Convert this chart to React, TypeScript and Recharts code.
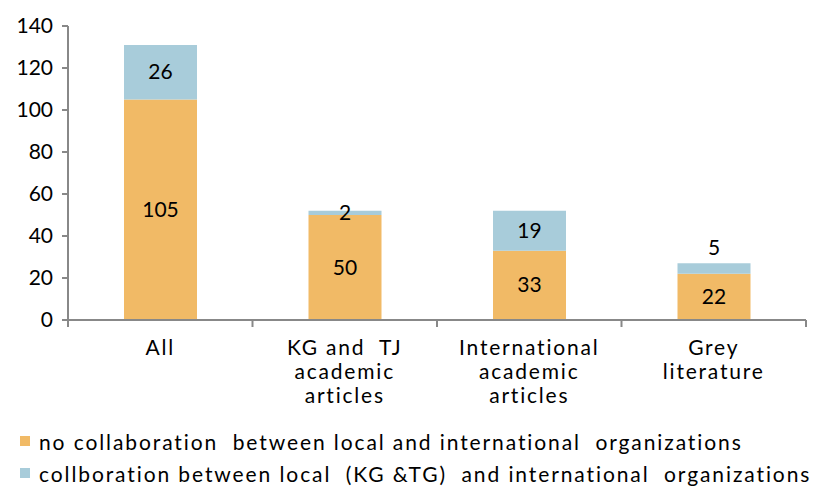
import React from "react"
import { Bar, BarChart, LabelList, XAxis, YAxis } from "recharts"

const categories = ["All", "KG and  TJ|academic|articles", "International|academic|articles", "Grey|literature"]
const noCollab = [105, 50, 33, 22]
const collab = [26, 2, 19, 5]
const yTicks = [0, 20, 40, 60, 80, 100, 120, 140]

const seriesNames = {
    noCollab: "no collaboration  between local and international  organizations",
    collab: "collboration between local  (KG &TG)  and international  organizations",
}

const ORANGE = "#F1BA66"
const BLUE = "#A8CCDA"
const AXIS = "#888888"
const FONT = "Lato, 'Open Sans', sans-serif"

const data = categories.map((name, i) => ({
    name,
    noCollab: noCollab[i],
    collab: collab[i],
}))

function CategoryTick(props: any) {
    const { x, y, payload, index, visibleTicksCount } = props
    const lines: string[] = String(payload.value).split("|")
    const half = payload.offset ?? 0
    return (
        <g>
            <line x1={x - half} x2={x - half} y1={y - 8} y2={y - 1} stroke={AXIS} strokeWidth={2} />
            {index === visibleTicksCount - 1 && (
                <line x1={x + half} x2={x + half} y1={y - 8} y2={y - 1} stroke={AXIS} strokeWidth={2} />
            )}
            <text x={x} y={y} textAnchor="middle" fontSize={21} letterSpacing={1.8} fill="#000" fontFamily={FONT} style={{ whiteSpace: "pre" }}>
                {lines.map((l, i) => (
                    <tspan key={i} x={x} dy={i === 0 ? 27 : 24}>{l}</tspan>
                ))}
            </text>
        </g>
    )
}

function SegmentLabel(props: any) {
    const { x, y, width, height, value, index } = props
    // the small "5" on grey literature sits above its bar
    const above = index === 3 && value < 10
    const cy = above ? y - 15 : y + height / 2
    return (
        <text x={x + width / 2} y={cy} dy={7} textAnchor="middle" fontSize={21} fill="#000" fontFamily={FONT}>
            {value}
        </text>
    )
}

function LegendRow({ color, label }: { color: string; label: string }) {
    return (
        <div style={{ display: "flex", alignItems: "center", height: 32 }}>
            <span style={{ width: 10, height: 10, background: color, marginRight: 9, display: "inline-block" }} />
            <span style={{ whiteSpace: "pre" }}>{label}</span>
        </div>
    )
}

export default function App() {
    return (
        <div style={{ position: "absolute", top: 0, left: 0, width: 821, height: 489, background: "#fff" }}>
            <BarChart width={821} height={420} data={data} margin={{ top: 26, right: 15, left: 8, bottom: 0 }} barSize={73}>
                <XAxis
                    dataKey="name"
                    type="category"
                    interval={0}
                    height={100}
                    tickLine={false}
                    axisLine={{ stroke: AXIS, strokeWidth: 2 }}
                    tick={<CategoryTick />}
                />
                <YAxis
                    domain={[0, 140]}
                    ticks={yTicks}
                    width={60}
                    tickSize={6}
                    tickMargin={9}
                    axisLine={{ stroke: AXIS, strokeWidth: 2 }}
                    tickLine={{ stroke: AXIS, strokeWidth: 2 }}
                    tick={{ fontSize: 21, fill: "#000", fontFamily: FONT }}
                />
                <Bar dataKey="noCollab" name={seriesNames.noCollab} stackId="a" fill={ORANGE} isAnimationActive={false}>
                    <LabelList dataKey="noCollab" content={<SegmentLabel />} />
                </Bar>
                <Bar dataKey="collab" name={seriesNames.collab} stackId="a" fill={BLUE} isAnimationActive={false}>
                    <LabelList dataKey="collab" content={<SegmentLabel />} />
                </Bar>
            </BarChart>
            <div style={{ position: "absolute", top: 425, left: 20, fontFamily: FONT, fontSize: 21, letterSpacing: 1.9, color: "#000" }}>
                <LegendRow color={ORANGE} label={seriesNames.noCollab} />
                <LegendRow color={BLUE} label={seriesNames.collab} />
            </div>
        </div>
    )
}
